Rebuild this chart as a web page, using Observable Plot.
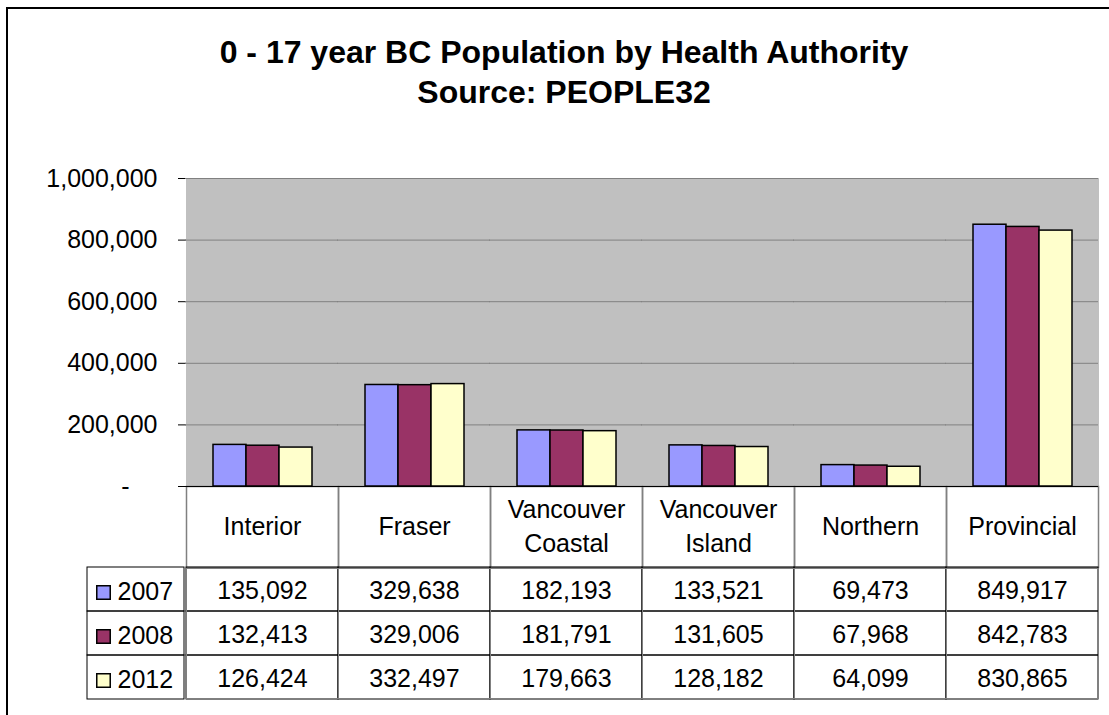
<!DOCTYPE html>
<html>
<head>
<meta charset="utf-8">
<script src="https://cdn.jsdelivr.net/npm/d3@7"></script>
<script src="https://cdn.jsdelivr.net/npm/@observablehq/plot@0.6"></script>
<style>
  html, body { margin: 0; padding: 0; background: #fff; overflow: hidden; }
  #page { position: relative; width: 1109px; height: 715px; overflow: hidden; font-family: "Liberation Sans", Arial, sans-serif; }
  #border { position: absolute; left: 6px; top: 7px; width: 1140px; height: 740px; border: 2px solid #000; }
  #title { position: absolute; left: 0; top: 32px; width: 1128px; text-align: center; font-weight: bold; font-size: 32px; line-height: 40px; color: #000; }
  .layer { position: absolute; left: 0; }
  .layer svg { overflow: visible; background: transparent; }
</style>
</head>
<body>
<div id="page">
  <div id="border"></div>
  <div id="title">0 - 17 year BC Population by Health Authority<br>Source: PEOPLE32</div>
  <div id="chartA" class="layer" style="top:140px"></div>
  <div id="tableB" class="layer" style="top:566px"></div>
  <div id="legendC" class="layer" style="top:566px; left:87px"></div>
</div>
<script>
// ---- data ----
const regions = ["Interior", "Fraser", "Vancouver Coastal", "Vancouver Island", "Northern", "Provincial"];
const regionLabels = ["Interior", "Fraser", "Vancouver\nCoastal", "Vancouver\nIsland", "Northern", "Provincial"];
const years = ["2007", "2008", "2012"];
const values2007 = [135092, 329638, 182193, 133521, 69473, 849917];
const values2008 = [132413, 329006, 181791, 131605, 67968, 842783];
const values2012 = [126424, 332497, 179663, 128182, 64099, 830865];
const yTicks = [0, 200000, 400000, 600000, 800000, 1000000];
const yearColors = ["#9999FF", "#993366", "#FFFFCC"];

const series = [values2007, values2008, values2012];
const rows = years.flatMap((yr, j) => regions.map((r, i) => ({region: r, year: yr, value: series[j][i]})));
const fmt = d3.format(",");
const font = "'Liberation Sans', Arial, sans-serif";

const W = 1109, mL = 184, mR = 9;
const plotH = 308;     // plot area height (px)
const headerH = 81;    // header row of the data table (px)
const facetW = (W - mL - mR) / regions.length;

// ---- chart ----
const chart = Plot.plot({
  width: W,
  height: 38 + plotH + headerH,
  marginLeft: mL,
  marginRight: mR,
  marginTop: 38,
  marginBottom: headerH,
  style: {fontFamily: font, fontSize: "25px", color: "#000", background: "transparent", overflow: "visible"},
  fx: {domain: regions, padding: 0, axis: null},
  x: {domain: years, paddingInner: 0, paddingOuter: 0.75, axis: null},
  y: {domain: [0, 1000000], ticks: yTicks, tickFormat: d => d === 0 ? "-\u2007\u2007" : fmt(d), tickSize: 8, tickPadding: 21, label: null, line: true},
  color: {domain: years, range: yearColors},
  marks: [
    Plot.frame({fill: "#C0C0C0", stroke: "#C0C0C0", strokeWidth: 1, shapeRendering: "crispEdges"}),
    Plot.frame({stroke: "#808080", strokeWidth: 1.5, insetTop: plotH, insetBottom: -headerH}),
    Plot.ruleY(yTicks.filter(d => d > 0), {stroke: "#808080", strokeWidth: 1, insetLeft: -1}),
    Plot.ruleX(regions.slice(-1), {fx: d => d, dx: facetW / 2, stroke: "#808080", strokeWidth: 1.5}),
    Plot.barY(rows, {fx: "region", x: "year", y: "value", fill: "year", stroke: "#000", strokeWidth: 1.5}),
    Plot.ruleY([0], {stroke: "#000", strokeWidth: 1, insetLeft: -1}),
    Plot.text(regions, {fx: d => d, text: (d, i) => regionLabels[i], frameAnchor: "bottom", lineAnchor: "middle", dy: 38, fontSize: 25, lineHeight: 1.36, fill: "#000"})
  ]
});
document.getElementById("chartA").appendChild(chart);

// ---- data table ----
const table = Plot.plot({
  width: W,
  height: 134,
  marginLeft: mL,
  marginRight: mR,
  marginTop: 1,
  marginBottom: 1,
  style: {fontFamily: font, fontSize: "25px", color: "#000", background: "transparent", overflow: "visible"},
  fx: {domain: regions, padding: 0, axis: null},
  y: {domain: years, padding: 0, axis: null},
  marks: [
    Plot.cell(rows, {fx: "region", y: "year", fill: "none", stroke: "#000", strokeWidth: 1}),
    Plot.frame({stroke: "#808080", strokeWidth: 1, insetTop: 1, insetBottom: 1}),
    Plot.text(rows, {fx: "region", y: "year", text: d => fmt(d.value), fontSize: 25, fill: "#000", dy: 1})
  ]
});
document.getElementById("tableB").appendChild(table);

// ---- legend column ----
const legend = Plot.plot({
  width: 97,
  height: 134,
  marginLeft: 0,
  marginRight: 0,
  marginTop: 1,
  marginBottom: 1,
  style: {fontFamily: font, fontSize: "25px", color: "#000", background: "transparent", overflow: "visible"},
  y: {domain: years, padding: 0, axis: null},
  color: {domain: years, range: yearColors},
  marks: [
    Plot.cell(years, {y: d => d, fill: "none", stroke: "#000", strokeWidth: 1}),
    Plot.dot(years, {y: d => d, fill: d => d, stroke: "#000", strokeWidth: 1.5, symbol: "square", r: 7.6, frameAnchor: "left", dx: 16, dy: 3}),
    Plot.text(years, {y: d => d, text: d => d, frameAnchor: "left", textAnchor: "start", dx: 30, dy: 2, fontSize: 25, fill: "#000"})
  ]
});
document.getElementById("legendC").appendChild(legend);
</script>
</body>
</html>
